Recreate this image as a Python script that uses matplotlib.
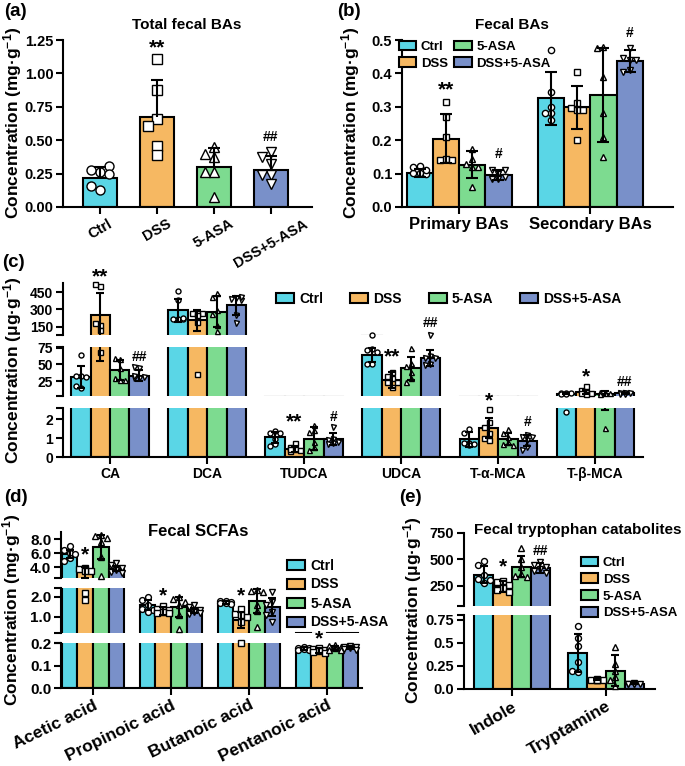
import numpy as np
import matplotlib.pyplot as plt
from matplotlib.patches import Patch
from matplotlib.ticker import FixedLocator

plt.rcParams.update({
    'font.family': ['Liberation Sans', 'DejaVu Sans'],
    'font.weight': 'bold',
    'mathtext.fontset': 'custom',
    'mathtext.rm': 'Liberation Sans:bold',
    'mathtext.it': 'Liberation Sans:bold',
    'mathtext.bf': 'Liberation Sans:bold',
    'mathtext.default': 'rm',
})

GROUPS = ['Ctrl', 'DSS', '5-ASA', 'DSS+5-ASA']
COLORS = ['#5AD6E6', '#F6B862', '#7DDB90', '#7990C9']
MARKERS = ['o', 's', '^', 'v']

# (a) total fecal BAs (mg/g)
A_MEAN = [0.22, 0.675, 0.30, 0.28]
A_SD = [0.08, 0.275, 0.14, 0.10]
A_PTS = [[0.13, 0.26, 0.275, 0.31, 0.25, 0.16],
         [1.11, 0.875, 0.655, 0.605, 0.46, 0.39],
         [0.45, 0.375, 0.40, 0.26, 0.26, 0.075],
         [0.41, 0.325, 0.375, 0.24, 0.175, 0.24]]
A_SIG = [(1, '**', 1.19), (3, '##', 0.525)]

# (b) fecal BAs (mg/g)
B_CATS = ['Primary BAs', 'Secondary BAs']
B_MEAN = [[0.103, 0.205, 0.127, 0.096], [0.325, 0.298, 0.336, 0.436]]
B_SD = [[0.012, 0.073, 0.04, 0.014], [0.08, 0.065, 0.14, 0.033]]
B_PTS = [[[0.122, 0.102, 0.102, 0.12, 0.10, 0.112],
          [0.315, 0.27, 0.21, 0.145, 0.14, 0.14],
          [0.175, 0.145, 0.13, 0.12, 0.06, 0.12],
          [0.10, 0.11, 0.085, 0.11, 0.09, 0.085]],
         [[0.47, 0.345, 0.30, 0.28, 0.26, 0.28],
          [0.405, 0.31, 0.29, 0.295, 0.20, 0.29],
          [0.48, 0.475, 0.39, 0.28, 0.21, 0.15],
          [0.475, 0.44, 0.445, 0.44, 0.41, 0.405]]]
B_SIG = [(0, 1, '**', 0.35), (0, 3, '#', 0.158), (1, 3, '#', 0.52)]

# (c) individual bile acids (ug/g)
C_CATS = ['CA', 'DCA', 'TUDCA', 'UDCA', 'T-α-MCA', 'T-β-MCA']
C_MEAN = [[31, 250, 42, 33],
          [290, 205, 281, 335],
          [1.05, 0.45, 0.98, 0.95],
          [64, 27, 44, 60],
          [0.93, 1.52, 0.95, 0.86],
          [6.0, 9.0, 6.3, 6.5]]
C_SD = [[17, 195, 15, 8],
        [104, 90, 135, 83],
        [0.3, 0.16, 0.6, 0.3],
        [11, 12, 17, 12],
        [0.4, 0.53, 0.33, 0.3],
        [1.0, 3.0, 3.8, 0.8]]
C_PTS = [[[64, 33, 32, 31, 15, 17], [503, 518, 164, 181, 69, 120],
          [58, 60, 27, 30, 27, 45], [45, 46, 30, 29, 31, 33]],
         [[462, 381, 218, 218, 215, 225], [269, 269, 189, 269, 248, 36],
          [447, 411, 293, 263, 159, 114], [397, 388, 381, 411, 180, 248]],
         [[1.37, 1.29, 1.29, 0.98, 0.71, 0.57], [0.72, 0.55, 0.42, 0.35, 0.3, 0.4],
          [1.7, 1.43, 1.34, 0.8, 0.54, 0.36], [1.6, 0.98, 0.9, 0.8, 0.75, 0.7]],
         [[79, 72.5, 71.5, 69, 51, 51], [39, 32, 29, 24, 24, 16],
          [74, 52, 48, 38, 30, 24], [80, 62, 59, 51, 60, 49]],
         [[1.46, 1.25, 0.75, 0.75, 0.71, 0.63], [2.54, 1.85, 1.6, 1.25, 1.0, 0.9],
          [1.48, 1.25, 1.07, 0.8, 0.71, 0.63], [1.16, 1.07, 0.9, 0.54, 0.36, 1.07]],
         [[7.5, 7.0, 6.5, 6.0, 5.5, 2.4], [17.5, 12, 9, 7, 6.5, 6],
          [9, 8, 7, 6.5, 6, 1.53], [7.5, 7, 6.5, 6.5, 6, 5.5]]]
# (category, group, text, value, segment)
C_SIG = [(0, 1, '**', 585, 2), (0, 3, '##', 61, 1),
         (2, 1, '**', 1.87, 0), (2, 3, '#', 2.14, 0),
         (3, 1, '**', 61, 1), (3, 3, '##', 180, 2),
         (4, 1, '*', 3.0, 0), (4, 3, '#', 1.87, 0),
         (5, 1, '*', 31, 1), (5, 3, '##', 24, 1)]

# (d) fecal SCFAs (mg/g)
D_CATS = ['Acetic acid', 'Propinoic acid', 'Butanoic acid', 'Pentanoic acid']
D_MEAN = [[5.9, 3.3, 6.85, 3.8],
          [1.6, 1.32, 1.5, 1.33],
          [1.72, 0.87, 1.78, 1.5],
          [0.176, 0.168, 0.18, 0.18]]
D_SD = [[0.6, 0.8, 1.7, 0.4],
        [0.25, 0.2, 0.5, 0.12],
        [0.06, 0.4, 0.6, 0.45],
        [0.006, 0.01, 0.008, 0.005]]
D_PTS = [[[7.0, 6.4, 6.1, 5.9, 5.3, 4.9], [3.9, 3.7, 3.5, 3.4, 2.2, 1.85],
          [8.6, 8.5, 8.2, 7.6, 5.5, 2.7], [4.6, 4.35, 3.9, 3.6, 3.3, 3.2]],
         [[2.0, 1.83, 1.58, 1.42, 1.33, 1.25], [1.55, 1.4, 1.33, 1.25, 1.2, 1.2],
          [2.0, 1.92, 1.75, 1.58, 1.08, 0.4], [1.58, 1.5, 1.33, 1.25, 1.17, 1.2]],
         [[1.8, 1.78, 1.75, 1.7, 1.68, 1.65], [1.42, 1.17, 1.08, 1.0, 0.75, 0.2],
          [2.35, 2.3, 2.25, 1.6, 1.3, 0.5], [2.25, 1.75, 1.58, 1.25, 1.08, 0.75]],
         [[0.185, 0.18, 0.178, 0.175, 0.172, 0.17], [0.18, 0.175, 0.17, 0.165, 0.16, 0.155],
          [0.195, 0.19, 0.185, 0.18, 0.172, 0.17], [0.188, 0.185, 0.182, 0.178, 0.175, 0.172]]]
D_SIG = [(0, 1, '*', 5.77, 2), (1, 1, '*', 2.08, 1), (2, 1, '*', 2.08, 1), (3, 1, '*', 0.222, 0)]

# (e) fecal tryptophan catabolites (ug/g)
E_CATS = ['Indole', 'Tryptamine']
E_MEAN = [[357, 247, 430, 421], [0.39, 0.1, 0.2, 0.055]]
E_SD = [[83, 50, 100, 50], [0.21, 0.005, 0.17, 0.005]]
E_PTS = [[[490, 443, 350, 316, 310, 280], [300, 285, 260, 230, 210, 195],
          [611, 500, 430, 360, 342, 330], [475, 452, 430, 411, 390, 370]],
         [[0.685, 0.55, 0.46, 0.29, 0.18, 0.19], [0.105, 0.1, 0.1, 0.1, 0.1, 0.095],
          [0.45, 0.27, 0.2, 0.13, 0.1, 0.03], [0.06, 0.058, 0.055, 0.055, 0.052, 0.05]]]
E_SIG = [(0, 1, '*', 434, 1), (0, 3, '##', 579, 1)]

W, H = 685, 766
fig = plt.figure(figsize=(W / 100, H / 100), dpi=100)
LW = 1.5


def px_axes(x0, y0, x1, y1):
    return fig.add_axes([x0 / W, 1 - y1 / H, (x1 - x0) / W, (y1 - y0) / H])


def make_segments(x0, x1, segs, xlim, fs):
    # segs listed bottom first: ((ytop_px, ybot_px), ylim, ticks, ticklabels)
    axes = []
    n = len(segs)
    for i, ((yt, yb), lim, ticks, labels) in enumerate(segs):
        ax = px_axes(x0, yt, x1, yb)
        ax.set_xlim(*xlim)
        ax.set_ylim(*lim)
        ax.patch.set_alpha(0)
        for s in ['top', 'right']:
            ax.spines[s].set_visible(False)
        ax.spines['left'].set_linewidth(LW)
        ax.spines['bottom'].set_linewidth(LW)
        ax.set_yticks(ticks)
        ax.set_yticklabels(labels)
        ends = []
        if i > 0:
            ends.append(lim[0])
        if i < n - 1:
            ends.append(lim[1])
        ax.yaxis.set_minor_locator(FixedLocator(ends))
        ax.tick_params(which='both', width=LW, length=5, labelsize=fs, pad=2)
        if i > 0:
            ax.spines['bottom'].set_visible(False)
            ax.tick_params(axis='x', which='both', bottom=False, labelbottom=False)
        axes.append(ax)
    return axes


def seg_of(axes, v):
    for ax in axes:
        lo, hi = ax.get_ylim()
        if lo <= v <= hi:
            return ax
    return min(axes, key=lambda a: min(abs(v - a.get_ylim()[0]), abs(v - a.get_ylim()[1])))


def swarm(axes, xc, vals, ms_px, half_px):
    ax0 = axes[0]
    ppu = ax0.transData.transform((1, 0))[0] - ax0.transData.transform((0, 0))[0]
    step = ms_px * 1.0
    placed, out = [], []
    for v in vals:
        ypx = seg_of(axes, v).transData.transform((xc, v))[1]
        best, best_d = 0.0, -1
        for k in [0, -1, 1, -2, 2, -3, 3]:
            dx = k * step
            if abs(dx) > half_px:
                continue
            d = min([np.hypot(dx - px, ypx - py) for px, py in placed] + [1e9])
            if d >= step * 0.95:
                best = dx
                break
            if d > best_d:
                best, best_d = dx, d
        placed.append((best, ypx))
        out.append(xc + best / ppu)
    return out


def draw_bars(axes, xs, means, sds, pts, gidx, width, ms, cap, upper_only=False):
    ax0 = axes[0]
    ppu = ax0.transData.transform((1, 0))[0] - ax0.transData.transform((0, 0))[0]
    ms_px = ms * 100 / 72
    for x, m, s, p, g in zip(xs, means, sds, pts, gidx):
        px = swarm(axes, x, p, ms_px, 0.42 * width * ppu)
        lo = m if upper_only else m - s
        hi = m + s
        for ax in axes:
            ax.bar(x, m, width, color=COLORS[g], edgecolor='black', linewidth=LW, zorder=2)
            ax.vlines(x, lo, hi, color='black', linewidth=LW, zorder=4)
        caps = [hi] if upper_only else [lo, hi]
        for c in caps:
            seg_of(axes, c).plot([x], [c], marker='_', ms=2 * cap, mew=LW, color='black',
                                 zorder=4, clip_on=False)
        for xp, v in zip(px, p):
            seg_of(axes, v).plot([xp], [v], linestyle='none', marker=MARKERS[g], ms=ms,
                                 mfc='white', mec='black', mew=1.0, zorder=3, clip_on=False)


def sig(ax, x, y, text, fs_star=15, fs_hash=10):
    fs = fs_star if '*' in text else fs_hash
    ax.text(x, y, text, ha='center', va='center', fontsize=fs,
            fontweight='bold', clip_on=False, zorder=5)


def fig_text(x, y, s, **kw):
    fig.text(x / W, 1 - y / H, s, fontweight='bold', **kw)


def handles():
    return [Patch(facecolor=c, edgecolor='black', linewidth=LW, label=g)
            for c, g in zip(COLORS, GROUPS)]


def grouped(axes, means, sds, pts, width, ms, cap):
    xs, mm, ss, pp, gg = [], [], [], [], []
    for ci in range(len(means)):
        for g in range(4):
            xs.append(ci + (g - 1.5) * width)
            mm.append(means[ci][g])
            ss.append(sds[ci][g])
            pp.append(pts[ci][g])
            gg.append(g)
    draw_bars(axes, xs, mm, ss, pp, gg, width, ms, cap)


MG = 'Concentration (mg·g$^{-1}$)'
UG = 'Concentration (μg·g$^{-1}$)'

# ---------- (a)
axa = make_segments(63, 312, [((40, 207), (0, 1.25), [0, 0.25, 0.5, 0.75, 1.0, 1.25],
                                ['0.00', '0.25', '0.50', '0.75', '1.00', '1.25'])],
                    (-0.65, 3.72), 10.5)
draw_bars(axa, list(range(4)), A_MEAN, A_SD, A_PTS, list(range(4)), 0.6, 6.5, 4.5, upper_only=True)
axa[0].set_xticks(range(4))
axa[0].set_xticklabels(GROUPS, rotation=30, ha='center', fontsize=10.5)
for g, t, y in A_SIG:
    sig(axa[0], g, y, t)
fig_text(187, 25, 'Total fecal BAs', ha='center', va='center', fontsize=11)
fig_text(13, 123, MG, rotation=90, ha='center', va='center', fontsize=12.5)
fig_text(4, 12, '(a)', ha='left', va='center', fontsize=13.5)

# ---------- (b)
axb = make_segments(402, 673, [((40, 207), (0, 0.5), [0, 0.1, 0.2, 0.3, 0.4, 0.5],
                                 ['0.0', '0.1', '0.2', '0.3', '0.4', '0.5'])],
                    (-0.435, 1.63), 10.5)
grouped(axb, B_MEAN, B_SD, B_PTS, 0.2, 4.5, 4)
axb[0].set_xticks(range(2))
axb[0].set_xticklabels(B_CATS, fontsize=12)
for ci, g, t, y in B_SIG:
    sig(axb[0], ci + (g - 1.5) * 0.2, y, t)
axb[0].legend(handles=handles(), loc='upper left', bbox_to_anchor=(-3 / 271, 0.995), ncol=2,
              frameon=False, fontsize=9.5, handlelength=1.3, handleheight=0.75,
              handletextpad=0.35, columnspacing=0.5, labelspacing=0.32, borderpad=0,
              borderaxespad=0)
fig_text(512, 25, 'Fecal BAs', ha='center', va='center', fontsize=11)
fig_text(351, 123, MG, rotation=90, ha='center', va='center', fontsize=12.5)
fig_text(337, 12, '(b)', ha='left', va='center', fontsize=13.5)

# ---------- (c)
c_segs = [((408, 457), (0, 2.6), [0, 1, 2], ['0', '1', '2']),
          ((347, 396), (2.6, 76), [25, 50, 75], ['25', '50', '75']),
          ((283, 335), (76, 530), [150, 300, 450], ['150', '300', '450'])]
axc = make_segments(63, 643, c_segs, (-0.485, 5.49), 10)
grouped(axc, C_MEAN, C_SD, C_PTS, 0.2, 3.6, 3)
axc[0].set_xticks(range(len(C_CATS)))
axc[0].set_xticklabels(C_CATS, fontsize=10)
for ci, g, t, y, s in C_SIG:
    sig(axc[s], ci + (g - 1.5) * 0.2, y, t, fs_star=15, fs_hash=10)
fig.legend(handles=handles(), loc='center', bbox_to_anchor=(449 / W, 1 - 299 / H), ncol=4,
           frameon=False, fontsize=10, handlelength=1.3, handleheight=0.75,
           handletextpad=0.35, columnspacing=1.95, borderpad=0, borderaxespad=0)
fig_text(13, 370, UG, rotation=90, ha='center', va='center', fontsize=12.5)
fig_text(2, 262, '(c)', ha='left', va='center', fontsize=13.5)

# ---------- (d)
d_segs = [((643, 688), (0, 0.202), [0, 0.1, 0.2], ['0.0', '0.1', '0.2']),
          ((588, 633), (0.2, 2.45), [1.0, 2.0], ['1.0', '2.0']),
          ((532, 578), (2.45, 9.05), [4, 6, 8], ['4.0', '6.0', '8.0'])]
axd = make_segments(61, 362, d_segs, (-0.41, 3.45), 11)
grouped(axd, D_MEAN, D_SD, D_PTS, 0.2, 4.2, 3)
axd[0].set_xticks(range(len(D_CATS)))
axd[0].set_xticklabels(D_CATS, fontsize=12.5, rotation=26, ha='right', rotation_mode='anchor')
for ci, g, t, y, s in D_SIG:
    sig(axd[s], ci + (g - 1.5) * 0.2, y, t)
fig.legend(handles=handles(), loc='center left', bbox_to_anchor=(287 / W, 1 - 594 / H),
           frameon=False, fontsize=10, handlelength=1.3, handleheight=0.75,
           handletextpad=0.4, labelspacing=0.36, borderpad=0, borderaxespad=0)
fig_text(198, 531, 'Fecal SCFAs', ha='center', va='center', fontsize=12)
fig_text(12, 610, MG, rotation=90, ha='center', va='center', fontsize=12.5)
fig_text(4, 497, '(d)', ha='left', va='center', fontsize=13.5)

# ---------- (e)
e_segs = [((615, 689), (0, 0.8), [0, 0.25, 0.5, 0.75], ['0.0', '0.25', '0.5', '0.75']),
          ((533, 606), (60, 750), [250, 500, 750], ['250', '500', '750'])]
axe = make_segments(464, 655, e_segs, (-0.51, 1.52), 10.5)
grouped(axe, E_MEAN, E_SD, E_PTS, 0.2, 4.3, 3)
axe[0].set_xticks(range(len(E_CATS)))
axe[0].set_xticklabels(E_CATS, fontsize=12.5, rotation=30, ha='right', rotation_mode='anchor')
for ci, g, t, y, s in E_SIG:
    sig(axe[s], ci + (g - 1.5) * 0.2, y, t)
fig.legend(handles=handles(), loc='center left', bbox_to_anchor=(581 / W, 1 - 588 / H),
           frameon=False, fontsize=9.5, handlelength=1.3, handleheight=0.75,
           handletextpad=0.35, labelspacing=0.33, borderpad=0, borderaxespad=0)
fig_text(578, 530, 'Fecal tryptophan catabolites', ha='center', va='center', fontsize=11)
fig_text(413, 610, UG, rotation=90, ha='center', va='center', fontsize=12.5)
fig_text(399, 497, '(e)', ha='left', va='center', fontsize=13.5)

fig.savefig('out.png', dpi=100)
